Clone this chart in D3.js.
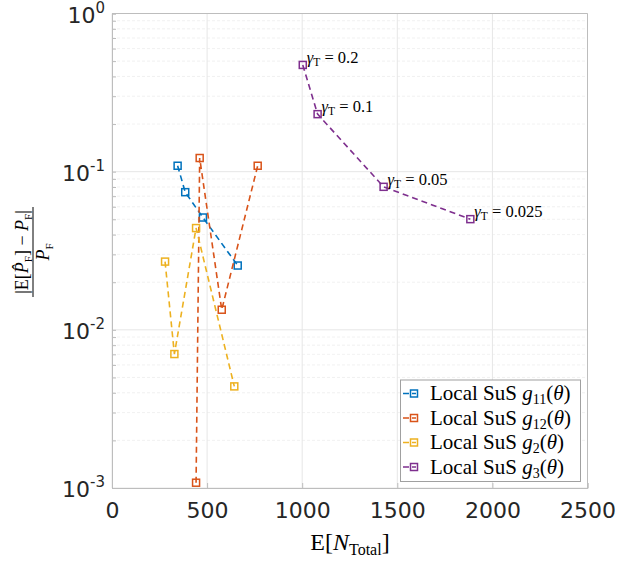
<!DOCTYPE html>
<html><head><meta charset="utf-8">
<script src="https://cdn.jsdelivr.net/npm/d3@7"></script>
<style>body{margin:0;background:#fff}svg{display:block}</style>
</head><body>
<svg id="c" width="619" height="561"></svg>
<script>
// ---- data ----
const seriesNames = ["11", "12", "2", "3"];
const seriesColors = ["#0072BD", "#D95319", "#EDB120", "#7E2F8E"];
const g11X = [345, 385, 478, 661];
const g11Y = [0.109, 0.0742, 0.0513, 0.0255];
const g12X = [442, 461, 577, 766];
const g12Y = [0.00108, 0.122, 0.0134, 0.109];
const g2X = [279, 328, 442, 643];
const g2Y = [0.0270, 0.00703, 0.0440, 0.00439];
const g3X = [1003, 1081, 1428, 1884];
const g3Y = [0.473, 0.231, 0.0802, 0.0501];
const gammaLabels = ["0.2", "0.1", "0.05", "0.025"];
const xTicks = [0, 500, 1000, 1500, 2000, 2500];
const yTickExps = [0, -1, -2, -3];

const seriesX = [g11X, g12X, g2X, g3X];
const seriesY = [g11Y, g12Y, g2Y, g3Y];

const svg = d3.select("#c");
const L = 112, T = 13.5, W = 475.5, H = 474.5;
const x = d3.scaleLinear().domain([0, 2500]).range([L, L + W]);
const y = d3.scaleLog().domain([1e-3, 1]).range([T + H, T]);

const serif = "'Liberation Serif','DejaVu Serif',serif";
const sans = "'DejaVu Sans','Liberation Sans',sans-serif";

// minor grid (y)
const minor = [];
for (let e = -3; e < 0; e++) for (let k = 2; k <= 9; k++) minor.push(k * Math.pow(10, e));
svg.append("g").selectAll("line").data(minor).join("line")
  .attr("x1", L).attr("x2", L + W).attr("y1", d => y(d)).attr("y2", d => y(d))
  .attr("stroke", "#eeeeee").attr("stroke-width", 0.8).attr("stroke-dasharray", "3,2");
// major grid
svg.append("g").selectAll("line").data(yTickExps).join("line")
  .attr("x1", L).attr("x2", L + W).attr("y1", d => y(Math.pow(10, d))).attr("y2", d => y(Math.pow(10, d)))
  .attr("stroke", "#e6e6e6").attr("stroke-width", 1);
svg.append("g").selectAll("line").data(xTicks).join("line")
  .attr("x1", d => x(d)).attr("x2", d => x(d)).attr("y1", T).attr("y2", T + H)
  .attr("stroke", "#e6e6e6").attr("stroke-width", 1);

// axes using d3 axis
const axC = "#bdbdbd";
const xAxis = svg.append("g").attr("transform", `translate(0,${T + H})`)
  .call(d3.axisBottom(x).tickValues(xTicks).tickSize(-5).tickPadding(14).tickFormat(d3.format("d")));
xAxis.select(".domain").attr("stroke", axC);
xAxis.selectAll(".tick line").attr("stroke", axC);
xAxis.selectAll("text").attr("font-family", sans).attr("font-size", 22).attr("fill", "#262626");

const yAxis = svg.append("g").attr("transform", `translate(${L},0)`)
  .call(d3.axisLeft(y).tickValues(minor.concat(yTickExps.map(e => Math.pow(10, e)))).tickSize(-4).tickFormat(""));
yAxis.select(".domain").attr("stroke", axC);
yAxis.selectAll(".tick line").attr("stroke", axC);
// y tick labels with superscripts
const yl = svg.append("g");
yTickExps.forEach(e => {
  const t = yl.append("text").attr("x", L - 7).attr("y", y(Math.pow(10, e)) + 9)
    .attr("text-anchor", "end").attr("font-family", sans).attr("font-size", 22).attr("fill", "#262626");
  t.append("tspan").text("10");
  t.append("tspan").attr("dy", -10).attr("font-size", 15).text(e === 0 ? "0" : "-" + (-e));
});
// top/right box
svg.append("line").attr("x1", L).attr("x2", L + W).attr("y1", T).attr("y2", T).attr("stroke", axC);
svg.append("line").attr("x1", L + W).attr("x2", L + W).attr("y1", T).attr("y2", T + H).attr("stroke", axC);

// series
const line = d3.line().x(d => x(d[0])).y(d => y(d[1]));
seriesX.forEach((xs, i) => {
  const pts = xs.map((v, j) => [v, seriesY[i][j]]);
  const g = svg.append("g");
  g.append("path").attr("d", line(pts)).attr("fill", "none").attr("stroke", seriesColors[i])
    .attr("stroke-width", 1.6).attr("stroke-dasharray", "6,4");
  g.selectAll("rect").data(pts).join("rect")
    .attr("x", d => x(d[0]) - 3.5).attr("y", d => y(d[1]) - 3.5).attr("width", 7).attr("height", 7)
    .attr("fill", "none").attr("stroke", seriesColors[i]).attr("stroke-width", 1.5);
});

// gamma labels
gammaLabels.forEach((lab, j) => {
  const t = svg.append("text").attr("x", x(g3X[j]) + 4).attr("y", y(g3Y[j]) - 2)
    .attr("font-family", serif).attr("font-size", 16.5).attr("fill", "#000");
  t.append("tspan").attr("font-style", "italic").text("γ");
  t.append("tspan").attr("dy", 3).attr("font-size", 11.5).text("T");
  t.append("tspan").attr("dy", -3).text(" = " + lab);
});

// legend
const lg = svg.append("g");
lg.append("rect").attr("x", 400.5).attr("y", 380).attr("width", 180).attr("height", 101.5)
  .attr("fill", "#fff").attr("stroke", "#a0a0a0").attr("stroke-width", 1);
seriesNames.forEach((n, i) => {
  const cy = 393.5 + i * 24.5;
  lg.append("line").attr("x1", 403).attr("x2", 416).attr("y1", cy).attr("y2", cy)
    .attr("stroke", seriesColors[i]).attr("stroke-width", 1.6).attr("stroke-dasharray", "6,3");
  lg.append("rect").attr("x", 410.5).attr("y", cy - 3.5).attr("width", 7).attr("height", 7)
    .attr("fill", "none").attr("stroke", seriesColors[i]).attr("stroke-width", 1.5);
  const t = lg.append("text").attr("x", 430).attr("y", cy + 6.5).attr("font-family", serif)
    .attr("font-size", 21).attr("fill", "#000");
  t.append("tspan").text("Local SuS ");
  t.append("tspan").attr("font-style", "italic").text("g");
  t.append("tspan").attr("dy", 4).attr("font-size", 14).text(n);
  t.append("tspan").attr("dy", -4).text("(");
  t.append("tspan").attr("font-style", "italic").text("θ");
  t.append("tspan").text(")");
});

// x label
const xl = svg.append("text").attr("x", 350).attr("y", 550).attr("text-anchor", "middle")
  .attr("font-family", serif).attr("font-size", 24).attr("fill", "#000");
xl.append("tspan").text("E[");
xl.append("tspan").attr("font-style", "italic").text("N");
xl.append("tspan").attr("dy", 5).attr("font-size", 16).text("Total");
xl.append("tspan").attr("dy", -5).text("]");

// y label (fraction, rotated)
const yg = svg.append("g").attr("transform", "translate(33,252) rotate(-90)");
const num = yg.append("text").attr("x", 0).attr("y", -5).attr("text-anchor", "middle")
  .attr("font-family", serif).attr("font-size", 18).attr("fill", "#000");
num.append("tspan").text("|E[");
num.append("tspan").attr("font-style", "italic").text("P\u0302");
num.append("tspan").attr("dy", 4).attr("font-size", 11).text("F");
num.append("tspan").attr("dy", -4).text("] \u2212 ");
num.append("tspan").attr("font-style", "italic").text("P");
num.append("tspan").attr("dy", 4).attr("font-size", 11).text("F");
num.append("tspan").attr("dy", -4).text("|");
yg.append("line").attr("x1", -45).attr("x2", 45).attr("y1", 0).attr("y2", 0).attr("stroke", "#000").attr("stroke-width", 1);
const den = yg.append("text").attr("x", 0).attr("y", 16).attr("text-anchor", "middle")
  .attr("font-family", serif).attr("font-size", 18).attr("fill", "#000");
den.append("tspan").attr("font-style", "italic").text("P");
den.append("tspan").attr("dy", 4).attr("font-size", 11).text("F");
</script>
</body></html>
